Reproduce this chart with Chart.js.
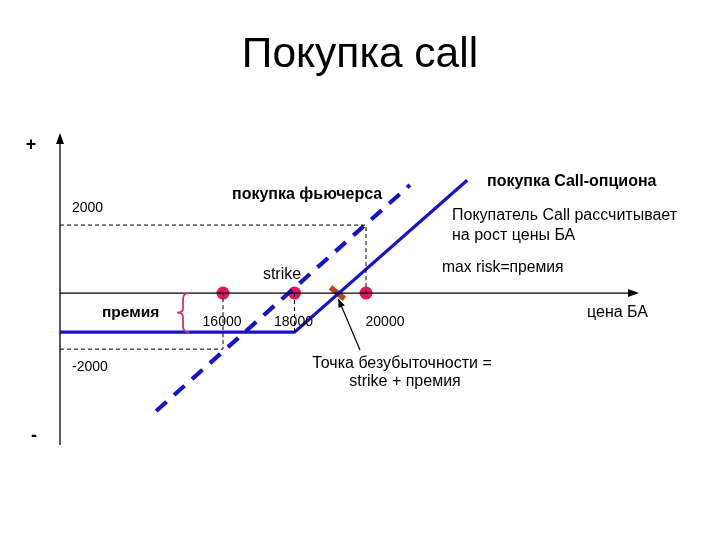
<!DOCTYPE html>
<html>
<head>
<meta charset="utf-8">
<script src="https://cdn.jsdelivr.net/npm/chart.js@4"></script>
<style>
  html, body { margin: 0; padding: 0; background: #fff; }
  #wrap { width: 720px; height: 540px; }
</style>
</head>
<body>
<div id="wrap"><canvas id="payoff"></canvas></div>
<script>
// price of the underlying (x) and profit (y)
const priceRange = [11440, 27580]
const profitRange = [-4470, 4650]

const callPrices = [11440, 18000, 22830]
const callProfit = [-1150, -1150, 3320]

const futPrices = [14130, 21230]
const futProfit = [-3470, 3180]

const markPrices = [16000, 18000, 20000]
const markLabels = ['16000', '18000', '20000']
const strike = 18000
const premium = 1150
const breakEven = 19200

const guideHighPrices = [11440, 20000, 20000]
const guideHighProfit = [2000, 2000, 0]
const guideLowPrices = [11440, 16000, 16000]
const guideLowProfit = [-1650, -1650, 0]
const guideStrikePrices = [18000, 18000]
const guideStrikeProfit = [0, -1150]

const profitLabels = ['2000', '-2000']

const BLUE = '#1414c8'
const RED = '#e3165c'
const FONT = '"Liberation Sans", Arial, sans-serif'

const pts = (xs, ys) => xs.map((x, i) => ({ x: x, y: ys[i] }))

const lineSet = (data, color, width, dash) => ({
  type: 'line', data: data, borderColor: color, borderWidth: width, borderDash: dash || [],
  pointRadius: 0, fill: false, tension: 0, showLine: true
})

// text, arrows and the brace
const notes = {
  id: 'notes',
  afterDatasetsDraw(chart) {
    const ctx = chart.ctx
    const sx = chart.scales.x, sy = chart.scales.y
    const X = v => sx.getPixelForValue(v), Y = v => sy.getPixelForValue(v)
    const text = (s, x, y, size, bold, align) => {
      ctx.font = `${bold ? 'bold ' : ''}${size}px ${FONT}`
      ctx.textAlign = align || 'left'
      ctx.textBaseline = 'middle'
      ctx.fillStyle = '#000'
      ctx.fillText(s, x, y)
    }
    ctx.save()

    // axis arrow heads
    ctx.fillStyle = '#000'
    ctx.beginPath()
    ctx.moveTo(X(priceRange[0]), Y(profitRange[1]) - 2)
    ctx.lineTo(X(priceRange[0]) - 4, Y(profitRange[1]) + 9)
    ctx.lineTo(X(priceRange[0]) + 4, Y(profitRange[1]) + 9)
    ctx.fill()
    ctx.beginPath()
    ctx.moveTo(X(priceRange[1]) + 2, Y(0))
    ctx.lineTo(X(priceRange[1]) - 9, Y(0) - 4)
    ctx.lineTo(X(priceRange[1]) - 9, Y(0) + 4)
    ctx.fill()

    // title
    ctx.font = `42.5px ${FONT}`
    ctx.textAlign = 'center'
    ctx.textBaseline = 'alphabetic'
    ctx.fillText('Покупка call', 360, 67)

    text('+', 31, 145, 18, true, 'center')
    text('-', 34, 436, 18, true, 'center')

    text(profitLabels[0], 72, 208, 14)
    text(profitLabels[1], 72, 367, 14)
    markLabels.forEach((s, i) => {
      const off = i === 2 ? 19 : -1
      text(s, X(markPrices[i]) + off, 322, 14, false, 'center')
    })

    text('strike', 282, 275, 16, false, 'center')
    text('премия', 102, 313, 15.5, true)
    text('покупка фьючерса', 232, 195, 16, true)
    text('покупка Call-опциона', 487, 182, 16, true)
    text('Покупатель Call рассчитывает', 452, 216, 16)
    text('на рост цены БА', 452, 236, 16)
    text('max risk=премия', 442, 268, 15.7)
    text('цена БА', 587, 313, 16)
    text('Точка безубыточности =', 402, 364, 16, false, 'center')
    text('strike + премия', 405, 382, 16, false, 'center')

    // arrow to break-even point
    const bx = X(breakEven) + 1, by = Y(0) + 6
    ctx.strokeStyle = '#000'
    ctx.lineWidth = 1.2
    ctx.beginPath()
    ctx.moveTo(360, 350)
    ctx.lineTo(bx, by)
    ctx.stroke()
    const a = Math.atan2(by - 350, bx - 360)
    ctx.beginPath()
    ctx.moveTo(bx, by)
    ctx.lineTo(bx - 9 * Math.cos(a - 0.4), by - 9 * Math.sin(a - 0.4))
    ctx.lineTo(bx - 9 * Math.cos(a + 0.4), by - 9 * Math.sin(a + 0.4))
    ctx.fill()

    // brace for the premium
    const top = Y(0), bot = Y(-premium), mid = (top + bot) / 2
    const bxr = 189
    ctx.strokeStyle = '#d4306e'
    ctx.lineWidth = 1.8
    ctx.beginPath()
    ctx.moveTo(bxr, top)
    ctx.quadraticCurveTo(183, top, 183, top + 6)
    ctx.lineTo(183, mid - 4)
    ctx.quadraticCurveTo(183, mid, 177, mid)
    ctx.quadraticCurveTo(183, mid, 183, mid + 4)
    ctx.lineTo(183, bot - 6)
    ctx.quadraticCurveTo(183, bot, bxr, bot)
    ctx.stroke()

    ctx.restore()
  }
}

new Chart(document.getElementById('payoff'), {
  type: 'scatter',
  data: {
    datasets: [
      lineSet(pts(guideHighPrices, guideHighProfit), '#000', 1, [4, 3]),
      lineSet(pts(guideLowPrices, guideLowProfit), '#000', 1, [4, 3]),
      lineSet(pts(guideStrikePrices, guideStrikeProfit), '#000', 1, [4, 3]),
      lineSet(pts(priceRange, [0, 0]), '#000', 1.3),
      lineSet(pts([priceRange[0], priceRange[0]], profitRange), '#000', 1.3),
      lineSet(pts(callPrices, callProfit), BLUE, 3.2),
      lineSet(pts(futPrices, futProfit), BLUE, 4.2, [14, 10]),
      {
        type: 'scatter', data: pts(markPrices, [0, 0, 0]),
        pointRadius: 6.5, backgroundColor: RED, borderColor: RED, borderWidth: 0
      },
      {
        type: 'scatter', data: pts([breakEven], [0]),
        pointStyle: 'line', pointRadius: 9, rotation: 40,
        borderColor: '#b5441f', borderWidth: 5.5
      }
    ]
  },
  options: {
    responsive: true, maintainAspectRatio: false, animation: false,
    layout: { padding: { left: 60, right: 83, top: 135, bottom: 95 } },
    scales: {
      x: { type: 'linear', display: false, min: priceRange[0], max: priceRange[1] },
      y: { type: 'linear', display: false, min: profitRange[0], max: profitRange[1] }
    },
    plugins: { legend: { display: false }, tooltip: { enabled: false } },
    clip: false
  },
  plugins: [notes]
})
</script>
</body>
</html>
